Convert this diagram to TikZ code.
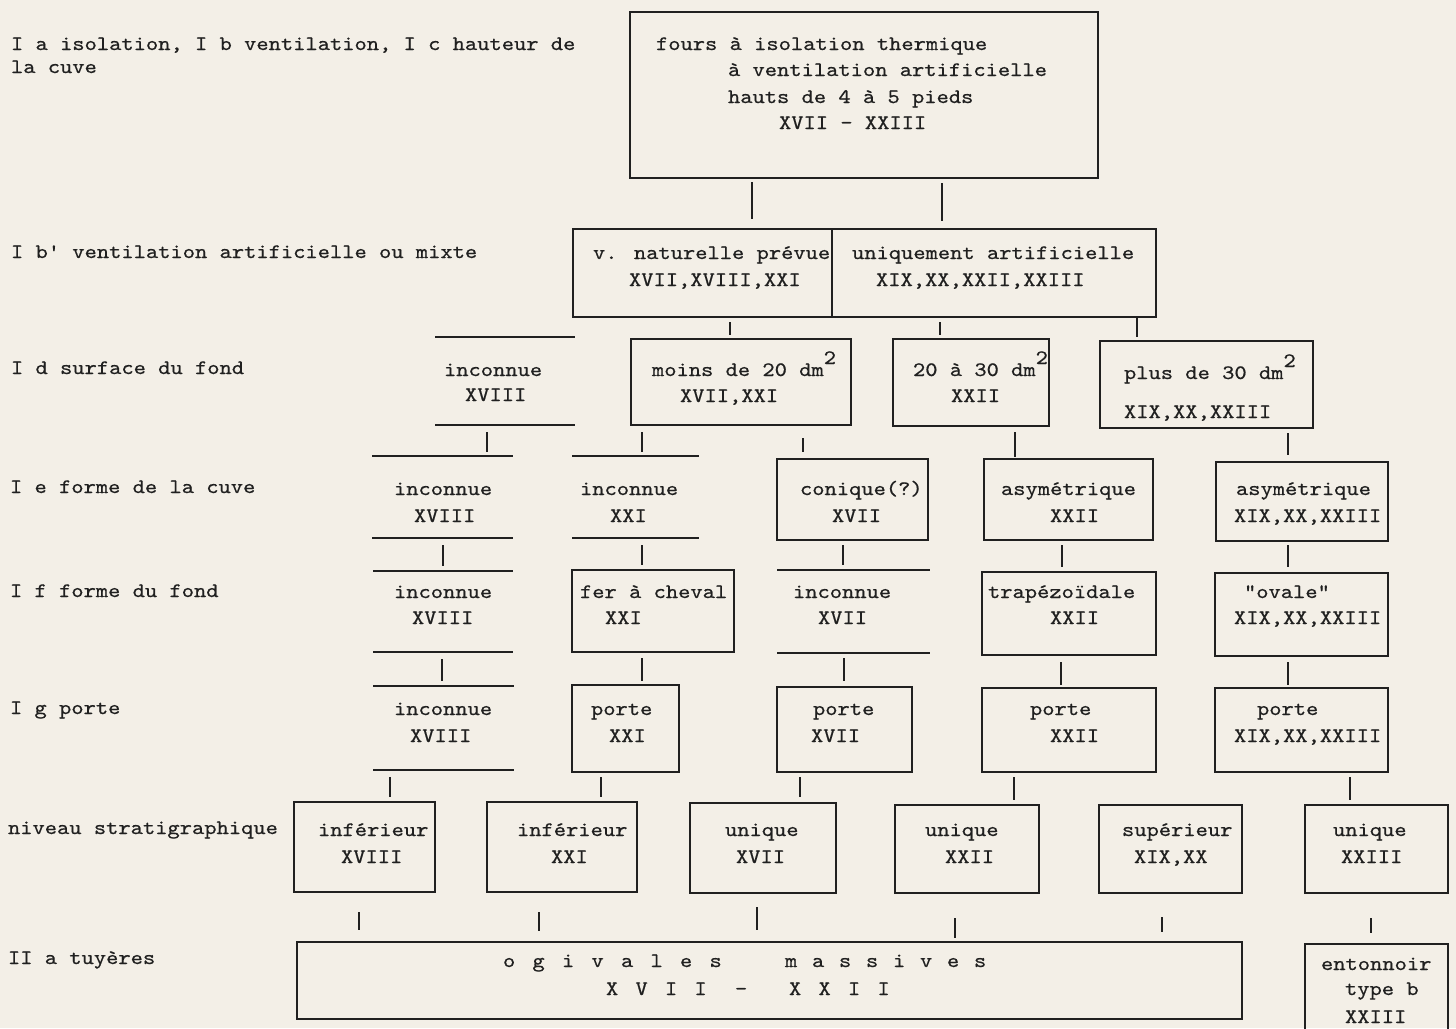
\documentclass[tikz,border=0pt]{standalone}
\usepackage{fontspec}
\newfontfamily\tw{lmmono10-regular.otf}[FakeStretch=1.14,FakeBold=0.6]
\usetikzlibrary{fit,calc}
\definecolor{paper}{RGB}{243,239,231}
\definecolor{ink}{RGB}{32,32,32}
\newlength\pitch
\newcommand\pc[1]{\makebox[\pitch][l]{#1}}
\newcommand\sq{\raisebox{12pt}{2}}
\newcommand\tx[4]{\node[txt] (#1) at (#2,#3) {#4};}
\newcommand\rl[1]{\draw[rules] (#1.north west) -- (#1.north east) (#1.south west) -- (#1.south east);}
\newcommand\conn[5]{\draw[conn] ($(#1.south -| #3,0)+(0,#4)$) -- ($(#2.north -| #3,0)+(0,-#5)$);}
\begin{document}
\begin{tikzpicture}[x=1pt,y=-1pt,
  box/.style={draw=ink, line width=1.3pt, inner sep=0pt, outer sep=0pt, rectangle},
  rulebox/.style={inner sep=0pt, outer sep=0pt, rectangle},
  rules/.style={draw=ink, line width=1.3pt},
  conn/.style={draw=ink, line width=1.3pt},
  txt/.style={font=\tw\fontsize{20.5}{24}\selectfont, text=ink, anchor=base west, inner sep=0pt, outer sep=0pt}]
\useasboundingbox (0,0) rectangle (1456,1028);
\fill[paper] (0,0) rectangle (1456,1028);

% ---- boxes ----
\node[box, fit={(630,12) (1098,178)}] (top) {};
\node[box, fit={(573,229) (832,317)}] (r2a) {};
\node[box, fit={(832,229) (1156,317)}] (r2b) {};
\node[rulebox, fit={(435,337) (575,425)}] (dA) {}; \rl{dA}
\node[box, fit={(631,339) (851,425)}] (dB) {};
\node[box, fit={(893,339) (1049,426)}] (dC) {};
\node[box, fit={(1100,341) (1313,428)}] (dD) {};
\node[rulebox, fit={(372,456) (513,538)}] (eA) {}; \rl{eA}
\node[rulebox, fit={(572,456) (699,538)}] (eB) {}; \rl{eB}
\node[box, fit={(777,459) (928,540)}] (eC) {};
\node[box, fit={(984,459) (1153,540)}] (eD) {};
\node[box, fit={(1216,462) (1388,541)}] (eE) {};
\node[rulebox, fit={(373,571) (513,652)}] (fA) {}; \rl{fA}
\node[box, fit={(572,570) (734,652)}] (fB) {};
\node[rulebox, fit={(777,570) (930,653)}] (fC) {}; \rl{fC}
\node[box, fit={(982,572) (1156,655)}] (fD) {};
\node[box, fit={(1215,573) (1388,656)}] (fE) {};
\node[rulebox, fit={(373,686) (514,770)}] (gA) {}; \rl{gA}
\node[box, fit={(572,685) (679,772)}] (gB) {};
\node[box, fit={(777,687) (912,772)}] (gC) {};
\node[box, fit={(982,688) (1156,772)}] (gD) {};
\node[box, fit={(1215,688) (1388,772)}] (gE) {};
\node[box, fit={(294,802) (435,892)}] (sA) {};
\node[box, fit={(487,802) (637,892)}] (sB) {};
\node[box, fit={(690,803) (836,893)}] (sC) {};
\node[box, fit={(895,805) (1039,893)}] (sD) {};
\node[box, fit={(1099,805) (1242,893)}] (sE) {};
\node[box, fit={(1305,805) (1448,893)}] (sF) {};
\node[box, fit={(297,942) (1242,1019)}] (tA) {};
\node[rulebox, fit={(1305,944) (1448,1030)}] (tB) {};
\draw[rules] (tB.south west) -- (tB.north west) -- (tB.north east) -- (tB.south east);

% ---- connectors ----
\conn{top}{r2a}{752}{4}{10}
\conn{top}{r2b}{942}{5}{8}
\conn{r2a}{dB}{730}{5}{4}
\conn{r2b}{dC}{940}{5}{4}
\conn{r2b}{dD}{1137}{1}{4}
\conn{dA}{eA}{487}{7}{4}
\conn{dB}{eB}{642}{7}{4}
\conn{dB}{eC}{803}{13}{7}
\conn{dC}{eD}{1015}{6}{2}
\conn{dD}{eE}{1288}{5}{7}
\conn{eA}{fA}{443}{7}{5}
\conn{eB}{fB}{642}{7}{5}
\conn{eC}{fC}{843}{5}{5}
\conn{eD}{fD}{1062}{5}{5}
\conn{eE}{fE}{1288}{4}{6}
\conn{fA}{gA}{442}{7}{5}
\conn{fB}{gB}{642}{6}{4}
\conn{fC}{gC}{844}{5}{6}
\conn{fD}{gD}{1061}{7}{3}
\conn{fE}{gE}{1288}{6}{3}
\conn{gA}{sA}{390}{7}{5}
\conn{gB}{sB}{601}{5}{5}
\conn{gC}{sC}{800}{5}{6}
\conn{gD}{sD}{1014}{5}{5}
\conn{gE}{sF}{1350}{5}{5}
\conn{sA}{tA}{359}{20}{12}
\conn{sB}{tA}{539}{20}{11}
\conn{sC}{tA}{757}{14}{12}
\conn{sD}{tA}{955}{25}{4}
\conn{sE}{tA}{1162}{24}{10}
\conn{sF}{tB}{1371}{25}{11}

% ---- left labels ----
\tx{l1}{11}{50}{I a isolation, I b ventilation, I c hauteur de}
\tx{l1b}{11}{73}{la cuve}
\tx{l2}{11}{258}{I b' ventilation artificielle ou mixte}
\tx{l3}{11}{374}{I d surface du fond}
\tx{l4}{10}{493}{I e forme de la cuve}
\tx{l5}{10}{597}{I f forme du fond}
\tx{l6}{10}{714}{I g porte}
\tx{l7}{8}{834}{niveau stratigraphique}
\tx{l8}{8}{964}{II a tuyères}

% ---- box texts ----
\tx{t1}{656}{50}{fours à isolation thermique}
\tx{t2}{728}{76}{à ventilation artificielle}
\tx{t3}{728}{103}{hauts de 4 à 5 pieds}
\tx{t4}{779}{129}{XVII - XXIII}

\tx{r2a1}{593}{259}{v. naturelle prévue}
\tx{r2a2}{629}{286}{XVII,XVIII,XXI}
\tx{r2b1}{852}{259}{uniquement artificielle}
\tx{r2b2}{876}{286}{XIX,XX,XXII,XXIII}

\tx{dA1}{444}{376}{inconnue}
\tx{dA2}{465}{401}{XVIII}
\tx{dB1}{652}{376}{moins de 20 dm\sq}
\tx{dB2}{680}{402}{XVII,XXI}
\tx{dC1}{913}{376}{20 à 30 dm\sq}
\tx{dC2}{951}{402}{XXII}
\tx{dD1}{1124}{379}{plus de 30 dm\sq}
\tx{dD2}{1124}{418}{XIX,XX,XXIII}

\tx{eA1}{394}{495}{inconnue}
\tx{eA2}{414}{522}{XVIII}
\tx{eB1}{580}{495}{inconnue}
\tx{eB2}{610}{522}{XXI}
\tx{eC1}{800}{495}{conique(?)}
\tx{eC2}{832}{522}{XVII}
\tx{eD1}{1001}{495}{asymétrique}
\tx{eD2}{1050}{522}{XXII}
\tx{eE1}{1236}{495}{asymétrique}
\tx{eE2}{1234}{522}{XIX,XX,XXIII}

\tx{fA1}{394}{598}{inconnue}
\tx{fA2}{412}{624}{XVIII}
\tx{fB1}{580}{598}{fer à cheval}
\tx{fB2}{605}{624}{XXI}
\tx{fC1}{793}{598}{inconnue}
\tx{fC2}{818}{624}{XVII}
\tx{fD1}{988}{598}{trapézoïdale}
\tx{fD2}{1050}{624}{XXII}
\tx{fE1}{1244}{598}{"ovale"}
\tx{fE2}{1234}{624}{XIX,XX,XXIII}

\tx{gA1}{394}{715}{inconnue}
\tx{gA2}{410}{742}{XVIII}
\tx{gB1}{591}{715}{porte}
\tx{gB2}{609}{742}{XXI}
\tx{gC1}{813}{715}{porte}
\tx{gC2}{811}{742}{XVII}
\tx{gD1}{1030}{715}{porte}
\tx{gD2}{1050}{742}{XXII}
\tx{gE1}{1257}{715}{porte}
\tx{gE2}{1234}{742}{XIX,XX,XXIII}

\tx{sA1}{318}{836}{inférieur}
\tx{sA2}{341}{863}{XVIII}
\tx{sB1}{517}{836}{inférieur}
\tx{sB2}{551}{863}{XXI}
\tx{sC1}{725}{836}{unique}
\tx{sC2}{736}{863}{XVII}
\tx{sD1}{925}{836}{unique}
\tx{sD2}{945}{863}{XXII}
\tx{sE1}{1122}{836}{supérieur}
\tx{sE2}{1134}{863}{XIX,XX}
\tx{sF1}{1333}{836}{unique}
\tx{sF2}{1341}{863}{XXIII}

\tx{tA1}{503}{967}{\setlength\pitch{29.5pt}\pc o\pc g\pc i\pc v\pc a\pc l\pc e\pc s}
\tx{tA2}{785}{967}{\setlength\pitch{27pt}\pc m\pc a\pc s\pc s\pc i\pc v\pc e\pc s}
\tx{tA3}{606}{995}{\setlength\pitch{29.5pt}\pc X\pc V\pc I\pc I}
\tx{tA4}{735}{995}{-}
\tx{tA5}{789}{995}{\setlength\pitch{29.5pt}\pc X\pc X\pc I\pc I}

\tx{tB1}{1321}{970}{entonnoir}
\tx{tB2}{1345}{995}{type b}
\tx{tB3}{1345}{1023}{XXIII}
\end{tikzpicture}
\end{document}
